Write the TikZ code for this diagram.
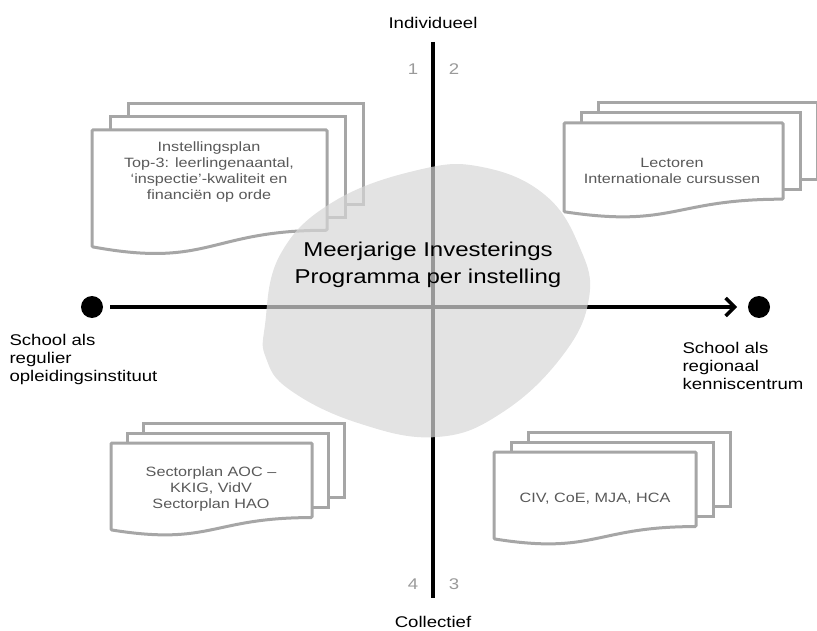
\documentclass[tikz,border=0pt]{standalone}
\usepackage{fontspec}
\setmainfont{Liberation Sans}[FakeStretch=1.2]
\usetikzlibrary{arrows.meta}

\definecolor{pagegray}{HTML}{A6A6A6}
\definecolor{textgray}{HTML}{595959}
\definecolor{numgray}{HTML}{9A9A9A}
\definecolor{blobgray}{HTML}{D7D7D7}

\tikzset{
	page/.style={draw=pagegray,line width=3pt,fill=white},
	boxtext/.style={text=textgray,align=center,font=\fontsize{13.5}{16}\selectfont},
	axislabel/.style={font=\fontsize{15.5}{18}\selectfont},
	sidelabel/.style={axislabel,align=left,anchor=north west},
	quadnum/.style={text=numgray,font=\fontsize{15.5}{18}\selectfont}
}

% stack of three pages: #1 left, #2 top, #3 right, #4 height, #5 dx, #6 dy
\newcommand{\pagestack}[6]{%
	\foreach \k in {2,1}
		\draw[page] ({#1+\k*#5},{#2+\k*#6}) rectangle ({#3+\k*#5},{#2+0.802*#4+\k*#6});
	\draw[page,rounded corners=1pt] (#1,#2) -- (#3,#2) -- (#3,{#2+0.802*#4})
		.. controls ({(#1+#3)/2},{#2+0.802*#4}) and ({(#1+#3)/2},{#2+1.107*#4}) .. (#1,{#2+0.934*#4}) -- cycle;
}

\begin{document}
\begin{tikzpicture}[x=1pt,y=-1pt]
		\useasboundingbox (0,0) rectangle (817,631);
		
		% the four stacks
		\pagestack{92}{130}{327}{125}{18}{-13}
		\pagestack{564}{123}{783}{95}{17}{-10}
		\pagestack{111}{443}{312}{93}{16}{-10}
		\pagestack{494}{452}{696}{93}{17}{-10}
		
		\node[boxtext] (plan) at (209,172) {Instellingsplan\\Top-3: leerlingenaantal,\\‘inspectie’-kwaliteit en\\financiën op orde};
		\node[boxtext] (lect) at (672,171) {Lectoren\\Internationale cursussen};
		\node[boxtext] (sector) at (211,489) {Sectorplan AOC –\\KKIG, VidV\\Sectorplan HAO};
		\node[boxtext] (civ) at (595,499) {CIV, CoE, MJA, HCA};
		
		% axes
		\coordinate (top) at (433,42);
		\coordinate (bot) at (433,598);
		\coordinate (start) at (110,307);
		\coordinate (end) at (737,307);
		\draw[line width=4pt] (top) -- (bot);
		\draw[line width=3.5pt,-{Straight Barb[length=9pt,width=18pt,line width=3.5pt]}] (start) -- (end);
		\node[circle,fill=black,inner sep=0pt,minimum size=22pt] (left) at (92,307) {};
		\node[circle,fill=black,inner sep=0pt,minimum size=22pt] (right) at (759,307) {};
		
		\node[axislabel,anchor=base] (ind) at (433,29) {Individueel};
		\node[axislabel,anchor=base] (col) at (433,627) {Collectief};
		\node[quadnum,anchor=base] (q1) at (413,75) {1};
		\node[quadnum,anchor=base] (q2) at (454,75) {2};
		\node[quadnum,anchor=base] (q4) at (413,589) {4};
		\node[quadnum,anchor=base] (q3) at (454,589) {3};
		
		\node[sidelabel] (regulier) at (6,331) {School als\\regulier\\opleidingsinstituut};
		\node[sidelabel] (regionaal) at (679,339) {School als\\regionaal\\kenniscentrum};
		
		% the programme blob on top
		\fill[blobgray,opacity=0.71] plot[smooth cycle,tension=0.7] coordinates {(265,325) (280,255) (333,202) (418,170) (482,167) (545,195) (580,248) (589,298) (563,355) (503,412) (437,437) (358,423) (290,390) (266,358)};
		\node[font=\fontsize{20}{27}\selectfont,align=center] (mip) at (428,265) {Meerjarige Investerings\\Programma per instelling};
		\end{tikzpicture}
\end{document}
